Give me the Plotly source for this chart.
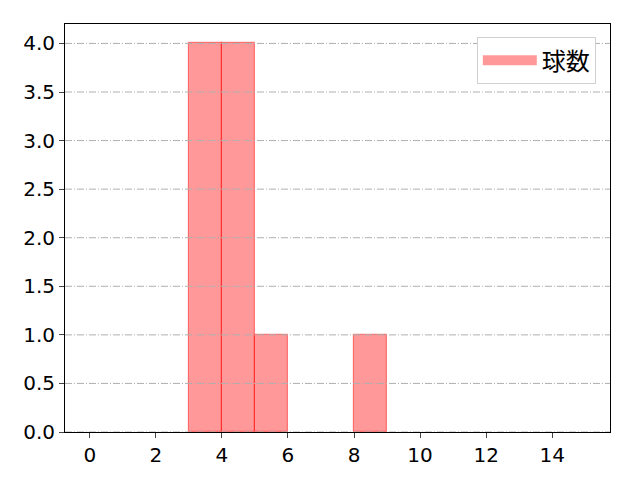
#!/usr/bin/env python3

import plotly.graph_objs as go

# histogram bins (left edge, width 1) and counts
bin_left = [3, 4, 5, 8]
counts = [4, 4, 1, 1]
series_name = '球数'
y_ticks = [0.0, 0.5, 1.0, 1.5, 2.0, 2.5, 3.0, 3.5, 4.0]
x_ticks = [0, 2, 4, 6, 8, 10, 12, 14]

font = 'DejaVu Sans, Noto Sans CJK JP'
fill = 'rgba(255,0,0,0.4)'
edge = 'rgba(255,0,0,0.45)'

fig = go.Figure()
fig.add_trace(go.Bar(
    x=[b + 0.5 for b in bin_left],
    y=counts,
    width=1,
    name=series_name,
    showlegend=False,
    marker={'color': fill, 'line': {'color': edge, 'width': 1.2}},
))
# legend entry with a wide swatch, like matplotlib's patch handle
fig.add_trace(go.Scatter(
    x=[None], y=[None], mode='lines', name=series_name,
    line={'color': fill, 'width': 19},
))

# grid lines drawn above the bars (matplotlib default here)
for yv in y_ticks:
    fig.add_shape(type='line', xref='paper', yref='y', x0=0, x1=1, y0=yv, y1=yv,
                  line={'color': '#b0b0b0', 'width': 1, 'dash': '7px,2px,1px,2px'},
                  layer='above')

# page body has an 8px margin, so the figure is a bit smaller than the window
fig.update_layout(
    width=632, height=472,
    margin={'l': 57, 'r': 30, 't': 16, 'b': 48},
    paper_bgcolor='white', plot_bgcolor='white',
    font={'family': font, 'size': 20, 'color': 'black'},
    showlegend=True,
    legend={
        'x': 0.974, 'y': 0.968, 'xanchor': 'right', 'yanchor': 'top',
        'bordercolor': '#d0d0d0', 'borderwidth': 1, 'bgcolor': 'white',
        'font': {'size': 24, 'family': 'Noto Sans CJK JP'},
        'itemwidth': 54,
    },
    bargap=0,
)
fig.update_xaxes(
    range=[-0.75, 15.75], tickvals=x_ticks, ticks='outside', ticklen=5,
    showline=True, linecolor='black', mirror=True, showgrid=False, zeroline=False,
    automargin=False,
)
fig.update_yaxes(
    range=[0, 4.2], tickvals=y_ticks, ticktext=['%.1f' % v for v in y_ticks],
    ticks='outside', ticklen=5,
    showline=True, linecolor='black', mirror=True, showgrid=False, zeroline=False,
    automargin=False,
)
fig.write_html('out.html')
